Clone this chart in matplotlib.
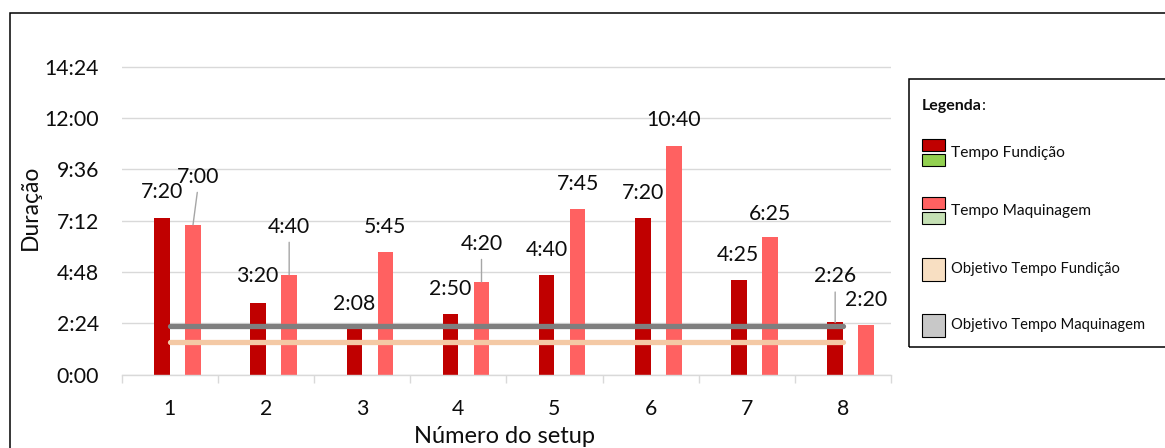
import numpy as np
import matplotlib
matplotlib.use("Agg")
import matplotlib.pyplot as plt
from matplotlib.patches import Rectangle

plt.rcParams['font.family'] = ['Lato', 'DejaVu Sans']

# durations in minutes
setups = [1, 2, 3, 4, 5, 6, 7, 8]
tempo_fundicao = [440, 200, 128, 170, 280, 440, 265, 146]
tempo_maquinagem = [420, 280, 345, 260, 465, 640, 385, 140]
objetivo_fundicao = [90] * 8
objetivo_maquinagem = [135] * 8
y_ticks = [0, 144, 288, 432, 576, 720, 864]

# label offsets (pixels) from bar top, and which labels get a leader line
fund_off = [(0, 26), (-1, 27), (0, 25), (0, 25), (0, 25), (0, 25), (-1, 25), (0, 46)]
maq_off = [(5, 48), (0, 48), (0, 25), (0, 38), (0, 25), (0, 26), (0, 23), (0, 25)]
fund_leader = [False, False, False, False, False, False, False, True]
maq_leader = [True, True, False, True, False, False, False, False]

C_FUND = '#C00000'
C_MAQ = '#FF6161'
C_OK_FUND = '#92D050'
C_OK_MAQ = '#C5E0B4'
C_OBJ_FUND = '#F4C9A5'
C_OBJ_MAQ = '#7F7F7F'
C_GRID = '#D9D9D9'
TXT = '#0d0d0d'

W, H = 1165, 448


def fx(x):
    return x / W


def fy(y):
    return 1 - y / H


def hm(m, pos=None):
    m = int(round(m))
    return f"{m // 60}:{m % 60:02d}"


fig = plt.figure(figsize=(W / 100, H / 100), dpi=100)
ax = fig.add_axes([fx(121.7), fy(374.5), fx(891) - fx(121.7), 900 * 0.3563 / H])

x = np.array(setups, dtype=float)
bw = 0.161
ax.bar(x - 0.0806, tempo_fundicao, bw, color=C_FUND, zorder=2)
ax.bar(x + 0.2416, tempo_maquinagem, bw, color=C_MAQ, zorder=2)

ax.plot(x, objetivo_fundicao, color=C_OBJ_FUND, lw=3.8, solid_capstyle='round', zorder=3)
ax.plot(x, objetivo_maquinagem, color=C_OBJ_MAQ, lw=3.8, solid_capstyle='round', zorder=3)

lead = dict(arrowstyle='-', color='#A6A6A6', lw=1.0, shrinkA=2, shrinkB=0, relpos=(0.5, 0))
for xs, vals, offs, leaders in [(x - 0.0806, tempo_fundicao, fund_off, fund_leader),
                                (x + 0.2416, tempo_maquinagem, maq_off, maq_leader)]:
    for xi, v, (dx, dy), ld in zip(xs, vals, offs, leaders):
        ax.annotate(hm(v), xy=(xi, v), xytext=(dx, dy), textcoords='offset pixels',
                    ha='center', va='center', fontsize=15.3, color=TXT, zorder=4,
                    arrowprops=lead if ld else None)

ax.set_xlim(0.5, 8.5)
ax.set_ylim(0, 900)
ax.set_yticks(y_ticks)
ax.yaxis.set_major_formatter(plt.FuncFormatter(hm))
ax.tick_params(axis='y', length=0, pad=16.3, labelsize=15.3, labelcolor=TXT)
ax.grid(axis='y', color=C_GRID, lw=1.0, zorder=0)
ax.set_axisbelow(True)

ax.set_xticks(np.arange(0.5, 9, 1))
ax.set_xticklabels([])
ax.set_xticks(x, minor=True)
ax.set_xticklabels([str(s) for s in setups], minor=True)
ax.tick_params(axis='x', which='major', length=5.8, color=C_GRID, width=1.0)
ax.tick_params(axis='x', which='minor', length=0, pad=17.3, labelsize=15.3, labelcolor=TXT)

for s in ['top', 'right', 'left']:
    ax.spines[s].set_visible(False)
ax.spines['bottom'].set_color(C_GRID)
ax.spines['bottom'].set_linewidth(1.0)

fig.text(fx(505), fy(443), 'Número do setup', ha='center', va='baseline', fontsize=17, color=TXT)
fig.text(fx(30), fy(207), 'Duração', ha='center', va='center', rotation=90, fontsize=16.5, color=TXT)

# outer frame
fig.add_artist(Rectangle((fx(10), -0.1), 1.2, fy(13) + 0.1, transform=fig.transFigure,
                         fill=False, ec='black', lw=1.1))

# legend box
fig.add_artist(Rectangle((fx(909), fy(347)), 0.3, (347 - 79) / H, transform=fig.transFigure,
                         fill=False, ec='black', lw=1.1))
t = fig.text(fx(922), fy(106), 'Legenda', ha='left', va='center', fontsize=11.5,
             fontweight='bold', color=TXT)
ax.annotate(':', xy=(1, 0), xycoords=t, ha='left', va='bottom', fontsize=11.5,
            color=TXT, annotation_clip=False)


def box(x0, y0, w, h, c):
    fig.add_artist(Rectangle((fx(x0), fy(y0 + h)), w / W, h / H, transform=fig.transFigure,
                             fc=c, ec='black', lw=0.8))


entries = [('Tempo Fundição', [C_FUND, C_OK_FUND], 153, 11.2),
           ('Tempo Maquinagem', [C_MAQ, C_OK_MAQ], 211, 11.2),
           ('Objetivo Tempo Fundição', ['#F8DFC2'], 269, 10.6),
           ('Objetivo Tempo Maquinagem', ['#C8C8C8'], 325, 10.6)]
for label, cols, yc, fs in entries:
    if len(cols) == 2:
        box(922, yc - 14, 23, 12, cols[0])
        box(922, yc + 1, 23, 12, cols[1])
    else:
        box(922, yc - 11.5, 23, 23, cols[0])
    fig.text(fx(951), fy(yc), label, ha='left', va='center', fontsize=fs, color=TXT)

fig.savefig('out.png', dpi=100)
